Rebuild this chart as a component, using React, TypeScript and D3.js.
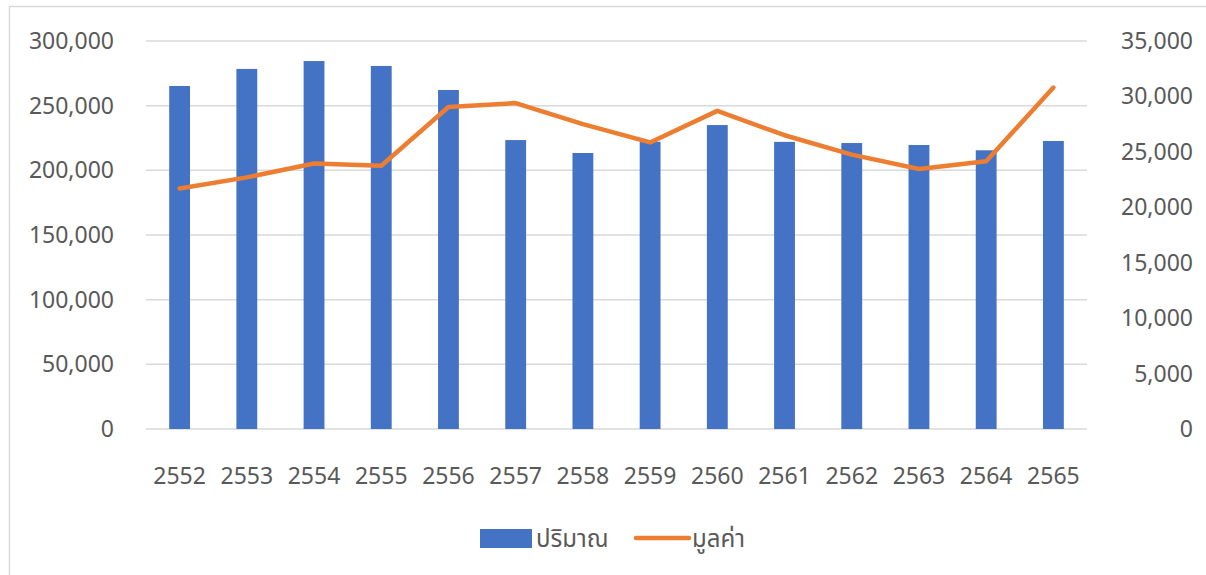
import React, { useEffect, useRef } from 'react';
import * as d3 from 'd3';

const years = ['2552', '2553', '2554', '2555', '2556', '2557', '2558', '2559', '2560', '2561', '2562', '2563', '2564', '2565'];
const quantity = [265200, 278400, 284500, 280700, 262100, 223400, 213400, 222100, 235000, 222000, 221100, 219600, 215500, 222700];
const value = [21700, 22700, 23950, 23750, 29050, 29400, 27500, 25850, 28700, 26500, 24750, 23450, 24150, 30800];
const leftTicks = [0, 50000, 100000, 150000, 200000, 250000, 300000];
const rightTicks = [0, 5000, 10000, 15000, 20000, 25000, 30000, 35000];
const seriesNames = ['ปริมาณ', 'มูลค่า'];

const W = 1206;
const H = 575;
const FONT = '"Noto Sans", "Noto Sans Thai", Tahoma, sans-serif';
const TEXT = '#595959';
const FS = 23;

export default function App() {
  const ref = useRef<SVGSVGElement>(null);

  useEffect(() => {
    if (!ref.current) return;
    const svg = d3.select(ref.current);
    svg.selectAll('*').remove();

    const plot = { left: 146, right: 1087, top: 41, bottom: 429 };

    // chart border
    svg.append('rect')
      .attr('x', 9.5).attr('y', 6.5)
      .attr('width', W + 10).attr('height', H + 10)
      .attr('fill', 'white')
      .attr('stroke', '#d9d9d9')
      .attr('stroke-width', 1.5);

    const x = d3.scaleBand<string>()
      .domain(years)
      .range([plot.left, plot.right])
      .paddingInner(0.69)
      .paddingOuter(0.345);

    const xc = d3.scaleBand<string>().domain(years).range([plot.left, plot.right]);

    const yL = d3.scaleLinear().domain([0, 300000]).range([plot.bottom, plot.top]);
    const yR = d3.scaleLinear().domain([0, 35000]).range([plot.bottom, plot.top]);

    // gridlines
    svg.append('g')
      .selectAll('line')
      .data(leftTicks)
      .join('line')
      .attr('x1', plot.left).attr('x2', plot.right)
      .attr('y1', d => yL(d)).attr('y2', d => yL(d))
      .attr('stroke', '#d9d9d9')
      .attr('stroke-width', 1.5);

    // left axis labels
    svg.append('g')
      .selectAll('text')
      .data(leftTicks)
      .join('text')
      .attr('x', 114)
      .attr('y', d => yL(d))
      .attr('dy', '0.35em')
      .attr('text-anchor', 'end')
      .attr('font-family', FONT)
      .attr('font-size', FS)
      .attr('fill', TEXT)
      .text(d => d3.format(',')(d));

    // right axis labels
    svg.append('g')
      .selectAll('text')
      .data(rightTicks)
      .join('text')
      .attr('x', 1193)
      .attr('y', d => yR(d))
      .attr('dy', '0.35em')
      .attr('text-anchor', 'end')
      .attr('font-family', FONT)
      .attr('font-size', FS)
      .attr('fill', TEXT)
      .text(d => d3.format(',')(d));

    // x labels
    svg.append('g')
      .selectAll('text')
      .data(years)
      .join('text')
      .attr('x', d => (xc(d) ?? 0) + xc.bandwidth() / 2)
      .attr('y', 476)
      .attr('dy', '0.35em')
      .attr('text-anchor', 'middle')
      .attr('font-family', FONT)
      .attr('font-size', FS)
      .attr('fill', TEXT)
      .text(d => d);

    // bars
    svg.append('g')
      .selectAll('rect')
      .data(years)
      .join('rect')
      .attr('x', d => x(d) ?? 0)
      .attr('y', (d, i) => yL(quantity[i]))
      .attr('width', x.bandwidth())
      .attr('height', (d, i) => plot.bottom - yL(quantity[i]))
      .attr('fill', '#4472c4');

    // line
    const line = d3.line<number>()
      .x((d, i) => (xc(years[i]) ?? 0) + xc.bandwidth() / 2)
      .y(d => yR(d));

    svg.append('path')
      .datum(value)
      .attr('d', line)
      .attr('fill', 'none')
      .attr('stroke', '#ed7d31')
      .attr('stroke-width', 4.5)
      .attr('stroke-linejoin', 'round')
      .attr('stroke-linecap', 'round');

    // legend
    const lg = svg.append('g');
    lg.append('rect')
      .attr('x', 480).attr('y', 529)
      .attr('width', 52).attr('height', 19)
      .attr('fill', '#4472c4');
    lg.append('text')
      .attr('x', 536).attr('y', 539)
      .attr('dy', '0.35em')
      .attr('font-family', FONT)
      .attr('font-size', 24)
      .attr('fill', TEXT)
      .text(seriesNames[0]);
    lg.append('line')
      .attr('x1', 636).attr('x2', 689)
      .attr('y1', 538).attr('y2', 538)
      .attr('stroke', '#ed7d31')
      .attr('stroke-width', 4.5)
      .attr('stroke-linecap', 'round');
    lg.append('text')
      .attr('x', 692).attr('y', 539)
      .attr('dy', '0.35em')
      .attr('font-family', FONT)
      .attr('font-size', 24)
      .attr('fill', TEXT)
      .text(seriesNames[1]);
  }, []);

  return (
    <svg
      ref={ref}
      width={W}
      height={H}
      style={{ position: 'absolute', left: 0, top: 0, background: 'white' }}
    />
  );
}
